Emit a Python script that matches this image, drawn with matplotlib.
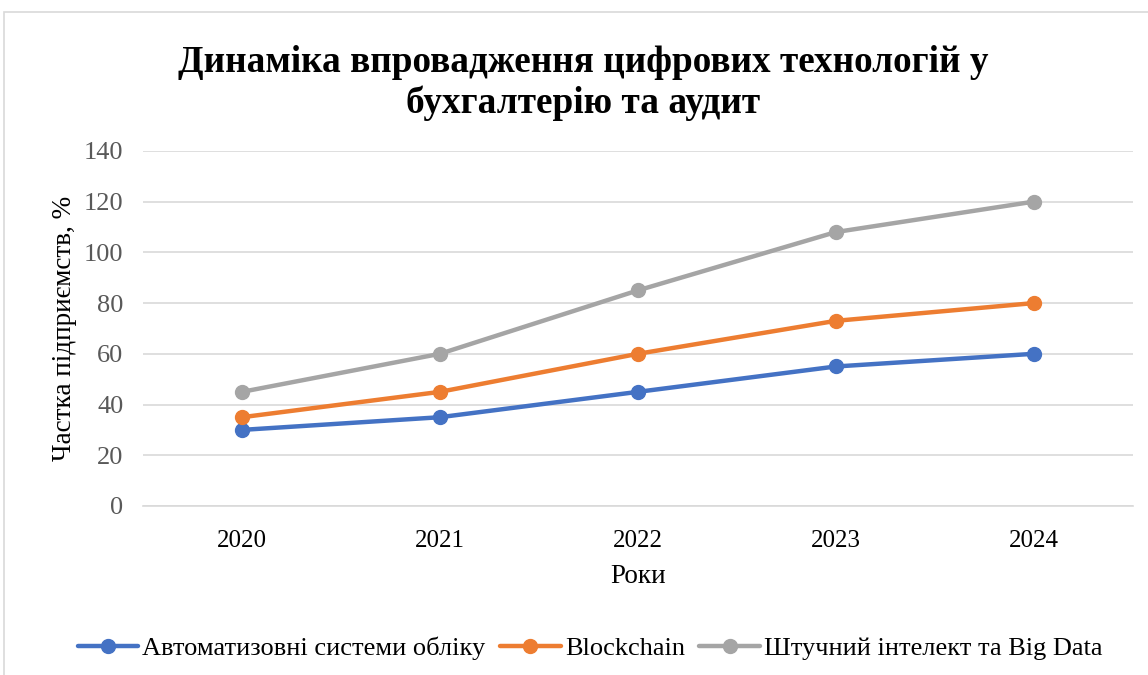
import matplotlib
matplotlib.use('Agg')
import matplotlib.pyplot as plt
from matplotlib.patches import Rectangle

# Дані з діаграми
roky = ['2020', '2021', '2022', '2023', '2024']
avtomatyzovani = [30, 35, 45, 55, 60]
blockchain = [35, 45, 60, 73, 80]
shtuchnyi_intelekt = [45, 60, 85, 108, 120]

nazvy = ['Автоматизовні системи обліку', 'Blockchain', 'Штучний інтелект та Big Data']
kolory = ['#4472C4', '#ED7D31', '#A5A5A5']

plt.rcParams['font.family'] = ['Liberation Serif', 'DejaVu Serif']

fig = plt.figure(figsize=(11.48, 6.75), dpi=100)
ax = fig.add_axes([0.1246, 0.2504, 0.862, 0.526])

# рамка області діаграми (обрізана справа і знизу)
fig.patches.append(Rectangle((4 / 1148, -0.1), 1.2, 1.1 - 12 / 675,
                             transform=fig.transFigure, fill=False,
                             edgecolor='#d9d9d9', linewidth=1.2))

x = range(len(roky))
for dani, nazva, kolir in zip([avtomatyzovani, blockchain, shtuchnyi_intelekt], nazvy, kolory):
    ax.plot(x, dani, color=kolir, linewidth=3.2, marker='o', markersize=10,
            label=nazva, solid_capstyle='round', zorder=3)

ax.set_xlim(-0.5, len(roky) - 0.5)
ax.set_ylim(0, 140)
ax.set_yticks(range(0, 141, 20))
ax.set_xticks(list(x))
ax.set_xticklabels(roky)
ax.tick_params(axis='y', length=0, labelsize=19, labelcolor='#595959', pad=14)
ax.tick_params(axis='x', length=0, labelsize=18, labelcolor='#000000', pad=17)
ax.grid(axis='y', color='#d9d9d9', linewidth=1.2)
ax.set_axisbelow(True)
for s in ['top', 'right', 'left']:
    ax.spines[s].set_visible(False)
ax.spines['bottom'].set_color('#d9d9d9')
ax.spines['bottom'].set_linewidth(1.2)

ax.set_xlabel('Роки', fontsize=19.5, labelpad=9)
ax.set_ylabel('Частка підприємств, %', fontsize=19.5, labelpad=5)

fig.text(0.508, 0.877, 'Динаміка впровадження цифрових технологій у\nбухгалтерію та аудит',
         ha='center', va='center', fontsize=26.8, fontweight='bold', linespacing=1.2)

fig.legend(loc='center', bbox_to_anchor=(0.514, 0.039), ncol=3, frameon=False,
           fontsize=19, handlelength=2.3, handletextpad=0.15, columnspacing=0.55)

fig.savefig('out.png', dpi=100)
